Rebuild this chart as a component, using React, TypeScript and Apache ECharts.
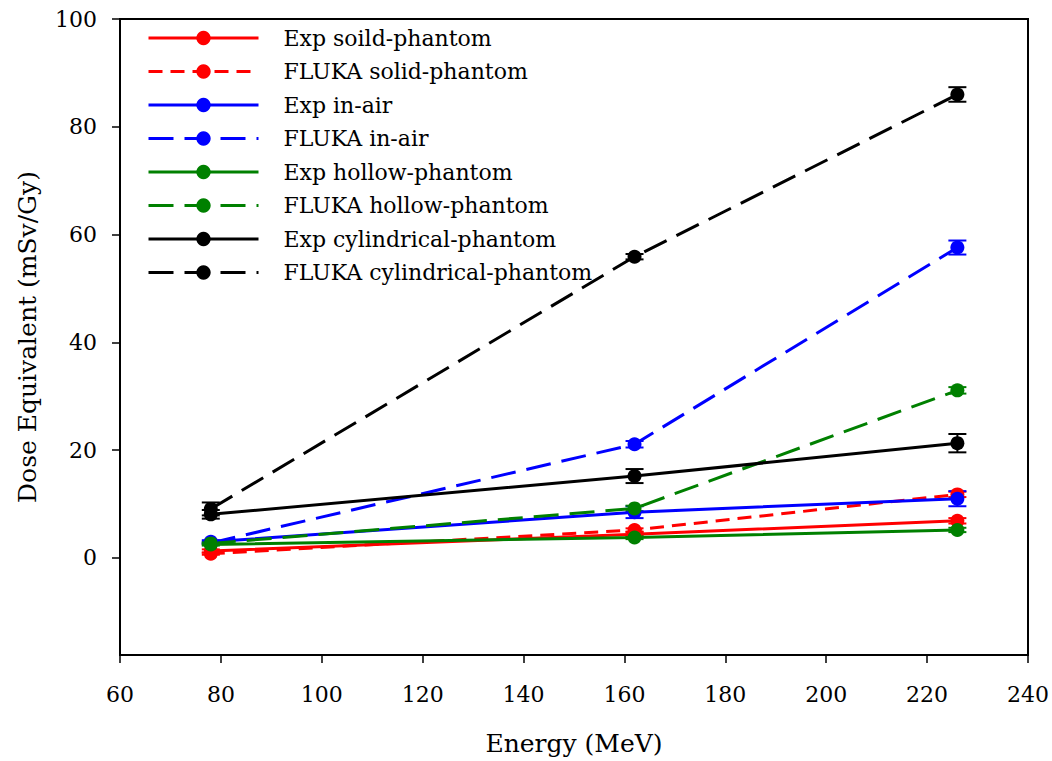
import { useEffect, useRef } from "react";
import * as echarts from "echarts";

// Proton beam energies (MeV)
const energies = [78, 162, 226];

// Dose equivalent per treatment dose (mSv/Gy)
const expSolid = [1.3, 4.4, 6.9];
const flukaSolid = [0.8, 5.2, 11.8];
const expAir = [3.0, 8.5, 11.0];
const flukaAir = [2.8, 21.1, 57.6];
const expHollow = [2.5, 3.8, 5.2];
const flukaHollow = [2.7, 9.2, 31.1];
const expCyl = [8.1, 15.2, 21.3];
const flukaCyl = [9.1, 55.9, 86.0];

// Uncertainties (±, mSv/Gy)
const expSolidErr = [0.3, 0.4, 0.5];
const flukaSolidErr = [0.2, 0.3, 0.5];
const expAirErr = [0.3, 1.1, 1.4];
const flukaAirErr = [0.2, 0.6, 1.3];
const expHollowErr = [0.2, 0.3, 0.4];
const flukaHollowErr = [0.2, 0.5, 0.6];
const expCylErr = [0.8, 1.3, 1.7];
const flukaCylErr = [1.2, 0.5, 1.35];

const yTickValues = [0, 20, 40, 60, 80, 100];

const FONT = "DejaVu Serif";
const LONG_DASH = [25, 11];
const SHORT_DASH = [14, 8];

type SeriesDef = {
  name: string;
  values: number[];
  errors: number[];
  color: string;
  dash: number[] | "solid";
};

const seriesDefs: SeriesDef[] = [
  { name: "Exp soild-phantom", values: expSolid, errors: expSolidErr, color: "#ff0000", dash: "solid" },
  { name: "FLUKA solid-phantom", values: flukaSolid, errors: flukaSolidErr, color: "#ff0000", dash: SHORT_DASH },
  { name: "Exp in-air", values: expAir, errors: expAirErr, color: "#0000ff", dash: "solid" },
  { name: "FLUKA in-air", values: flukaAir, errors: flukaAirErr, color: "#0000ff", dash: LONG_DASH },
  { name: "Exp hollow-phantom", values: expHollow, errors: expHollowErr, color: "#008000", dash: "solid" },
  { name: "FLUKA hollow-phantom", values: flukaHollow, errors: flukaHollowErr, color: "#008000", dash: LONG_DASH },
  { name: "Exp cylindrical-phantom", values: expCyl, errors: expCylErr, color: "#000000", dash: "solid" },
  { name: "FLUKA cylindrical-phantom", values: flukaCyl, errors: flukaCylErr, color: "#000000", dash: LONG_DASH },
];

function errorBarSeries(def: SeriesDef) {
  const color = def.color;
  return {
    type: "custom",
    name: def.name + " error",
    silent: true,
    z: 1,
    data: energies.map((e, i) => [e, def.values[i] - def.errors[i], def.values[i] + def.errors[i]]),
    encode: { x: 0, y: [1, 2] },
    renderItem: (_params: any, api: any) => {
      const x = api.value(0);
      const lo = api.coord([x, api.value(1)]);
      const hi = api.coord([x, api.value(2)]);
      const half = 9;
      const style = { stroke: color, lineWidth: 2 };
      return {
        type: "group",
        children: [
          { type: "line", shape: { x1: lo[0], y1: lo[1], x2: hi[0], y2: hi[1] }, style },
          { type: "line", shape: { x1: lo[0] - half, y1: lo[1], x2: lo[0] + half, y2: lo[1] }, style },
          { type: "line", shape: { x1: hi[0] - half, y1: hi[1], x2: hi[0] + half, y2: hi[1] }, style },
        ],
      };
    },
  };
}

function lineSeries(def: SeriesDef) {
  return {
    type: "line",
    name: def.name,
    z: 2,
    data: energies.map((e, i) => [e, def.values[i]]),
    symbol: "circle",
    symbolSize: 14,
    showSymbol: true,
    itemStyle: { color: def.color },
    lineStyle: { color: def.color, width: 3, type: def.dash },
  };
}

export default function App() {
  const ref = useRef<HTMLDivElement>(null);

  useEffect(() => {
    if (!ref.current) return;
    const chart = echarts.init(ref.current, null, { renderer: "svg" });
    const axisText = { fontFamily: FONT, fontSize: 22, color: "#000" };

    chart.setOption({
      animation: false,
      backgroundColor: "#ffffff",
      grid: {
        left: 120,
        top: 19,
        width: 908,
        height: 638,
        show: true,
        borderColor: "#000",
        borderWidth: 2,
        backgroundColor: "transparent",
      },
      legend: {
        orient: "vertical",
        left: 147,
        top: 27,
        padding: 0,
        itemWidth: 110,
        itemHeight: 18,
        itemGap: 11.5,
        data: seriesDefs.map((d) => d.name),
        lineStyle: { width: 3 },
        textStyle: {
          fontFamily: FONT,
          fontSize: 22,
          lineHeight: 22,
          color: "#000",
          padding: [0, 0, 0, 20],
        },
      },
      xAxis: {
        type: "value",
        min: 60,
        max: 240,
        interval: 20,
        name: "Energy (MeV)",
        nameLocation: "middle",
        nameGap: 76,
        nameTextStyle: { fontFamily: FONT, fontSize: 25, color: "#000" },
        axisLine: { show: true, onZero: false, lineStyle: { color: "#000", width: 2 } },
        axisTick: { show: true, inside: false, length: 8, lineStyle: { color: "#000", width: 1.5 } },
        axisLabel: { ...axisText, margin: 28 },
        splitLine: { show: false },
      },
      yAxis: {
        type: "value",
        min: -18,
        max: 100,
        name: "Dose Equivalent (mSv/Gy)",
        nameLocation: "middle",
        nameGap: 80,
        nameTextStyle: { fontFamily: FONT, fontSize: 25, color: "#000" },
        axisLine: { show: true, onZero: false, lineStyle: { color: "#000", width: 2 } },
        axisTick: {
          show: true,
          inside: false,
          length: 8,
          customValues: yTickValues,
          lineStyle: { color: "#000", width: 1.5 },
        },
        axisLabel: { ...axisText, margin: 23, customValues: yTickValues },
        splitLine: { show: false },
      },
      series: [...seriesDefs.map(errorBarSeries), ...seriesDefs.map(lineSeries)],
    });

    return () => chart.dispose();
  }, []);

  return (
    <div
      ref={ref}
      style={{ position: "absolute", left: 0, top: 0, width: 1052, height: 761, background: "#fff" }}
    />
  );
}
